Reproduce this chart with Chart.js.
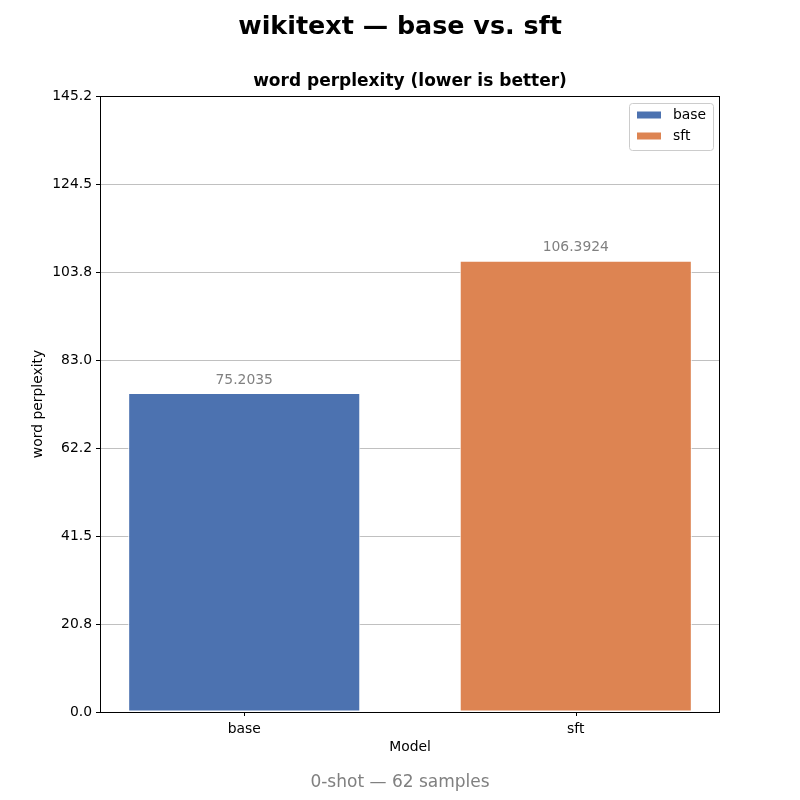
<!DOCTYPE html>
<html>
<head>
<meta charset="utf-8">
<script src="https://cdn.jsdelivr.net/npm/chart.js@4"></script>
<style>
  html, body { margin: 0; padding: 0; background: #fff; }
  #wrap { width: 800px; height: 800px; position: relative; }
</style>
</head>
<body>
<div id="wrap"><canvas id="evalChart"></canvas></div>
<script>
// --- data ---
const models = ['base', 'sft'];
const perplexity = [75.2035, 106.3924];
const barColors = ['#4c72b0', '#dd8452'];
const yTickLabels = ['0.0', '20.8', '41.5', '62.2', '83.0', '103.8', '124.5', '145.2'];
const yMax = 145.25;
const yStep = 20.75;

const FONT = "'DejaVu Sans', sans-serif";
const SMALL = 13.9;

// text + frame + legend drawn round the chart area
const decorPlugin = {
    id: 'decor',
    afterDatasetsDraw(chart) {
        const { ctx, chartArea: a } = chart;
        ctx.save();

        // value labels above bars
        const meta = chart.getDatasetMeta(0);
        ctx.fillStyle = '#808080';
        ctx.font = SMALL + 'px ' + FONT;
        ctx.textAlign = 'center';
        ctx.textBaseline = 'bottom';
        meta.data.forEach((bar, i) => {
            ctx.fillText(perplexity[i].toFixed(4), bar.x, bar.y - 6);
        });

        // axes frame
        ctx.strokeStyle = '#000';
        ctx.lineWidth = 1;
        ctx.strokeRect(a.left + 0.5, a.top + 0.5, a.right - a.left - 1, a.bottom - a.top);

        // x tick marks below the axis
        const xs = chart.scales.x;
        ctx.beginPath();
        models.forEach((m, i) => {
            const px = Math.round(xs.getPixelForValue(i)) + 0.5;
            ctx.moveTo(px, a.bottom);
            ctx.lineTo(px, a.bottom + 4);
        });
        ctx.stroke();

        // legend box (top right, inside)
        const bw = 84, bh = 47;
        const bx = a.right - 7 - bw, by = a.top + 7;
        ctx.fillStyle = 'rgba(255,255,255,0.8)';
        ctx.strokeStyle = '#cccccc';
        ctx.beginPath();
        ctx.roundRect(bx + 0.5, by + 0.5, bw, bh, 3);
        ctx.fill();
        ctx.stroke();
        ctx.font = SMALL + 'px ' + FONT;
        ctx.textAlign = 'left';
        ctx.textBaseline = 'middle';
        models.forEach((m, i) => {
            const cy = by + 12 + i * 21;
            ctx.fillStyle = barColors[i];
            ctx.fillRect(bx + 8, cy - 3.5, 24, 7);
            ctx.fillStyle = '#000';
            ctx.fillText(m, bx + 44, cy);
        });

        // titles
        ctx.textAlign = 'center';
        ctx.textBaseline = 'middle';
        ctx.fillStyle = '#000';
        ctx.font = 'bold 25.4px ' + FONT;
        ctx.fillText('wikitext \u2014 base vs. sft', chart.width / 2, 27);
        ctx.font = 'bold 17px ' + FONT;
        ctx.fillText('word perplexity (lower is better)', (a.left + a.right) / 2, 82);

        // footer
        ctx.fillStyle = '#808080';
        ctx.font = '17px ' + FONT;
        ctx.fillText('0-shot \u2014 62 samples', chart.width / 2, 783);
        ctx.restore();
    }
};

new Chart(document.getElementById('evalChart').getContext('2d'), {
    type: 'bar',
    data: {
        datasets: [{
            label: 'word perplexity',
            data: perplexity.map((v, i) => ({ x: i, y: v })),
            backgroundColor: barColors,
            borderColor: '#ffffff',
            borderWidth: 1,
            borderSkipped: false,
            categoryPercentage: 1.0,
            barPercentage: 0.7
        }]
    },
    options: {
        responsive: true,
        maintainAspectRatio: false,
        animation: false,
        devicePixelRatio: 1,
        layout: { padding: { top: 96, right: 80, bottom: 44, left: 30 } },
        plugins: {
            legend: { display: false },
            tooltip: { enabled: false }
        },
        scales: {
            x: {
                type: 'linear',
                min: -0.435,
                max: 1.435,
                offset: false,
                afterBuildTicks: (s) => { s.ticks = models.map((m, i) => ({ value: i })); },
                grid: { display: false },
                border: { display: false },
                ticks: {
                    color: '#000',
                    font: { family: FONT, size: SMALL },
                    padding: 1,
                    callback: (val) => models[val]
                },
                title: { display: true, text: 'Model', color: '#000', font: { family: FONT, size: SMALL }, padding: { top: 0, bottom: 0 } },
                afterFit: (s) => { s.height = 44; }
            },
            y: {
                min: 0,
                max: yMax,
                border: { display: false },
                grid: { color: '#c0c0c0', lineWidth: 1, tickColor: '#000', tickLength: 4 },
                ticks: {
                    stepSize: yStep,
                    color: '#000',
                    font: { family: FONT, size: SMALL },
                    padding: 4,
                    callback: (val, i) => yTickLabels[i]
                },
                title: { display: true, text: 'word perplexity', color: '#000', font: { family: FONT, size: SMALL }, padding: 0 },
                afterFit: (s) => { s.width = 70; }
            }
        }
    },
    plugins: [decorPlugin]
});
</script>
</body>
</html>
